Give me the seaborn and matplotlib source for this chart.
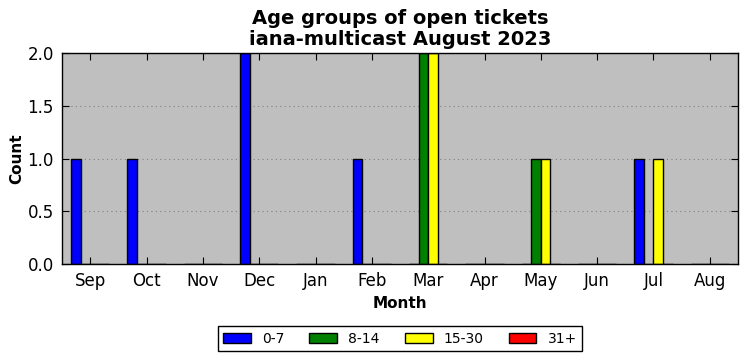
import matplotlib
matplotlib.use("Agg")
import matplotlib.pyplot as plt
import seaborn as sns
import pandas as pd

months = ["Sep", "Oct", "Nov", "Dec", "Jan", "Feb", "Mar", "Apr", "May", "Jun", "Jul", "Aug"]
groups = ["0-7", "8-14", "15-30", "31+"]
v_0_7 = [1, 1, 0, 2, 0, 1, 0, 0, 0, 0, 1, 0]
v_8_14 = [0, 0, 0, 0, 0, 0, 2, 0, 1, 0, 0, 0]
v_15_30 = [0, 0, 0, 0, 0, 0, 2, 0, 1, 0, 1, 0]
v_31p = [0, 0, 0, 0, 0, 0, 0, 0, 0, 0, 0, 0]
colors = ["#0000ff", "#008000", "#ffff00", "#ff0000"]

rows = []
for g, vals in zip(groups, [v_0_7, v_8_14, v_15_30, v_31p]):
    for m, v in zip(months, vals):
        rows.append({"Month": m, "Group": g, "Count": v})
df = pd.DataFrame(rows)

sns.set_style("ticks", {"axes.facecolor": "#bfbfbf", "axes.edgecolor": "black",
                        "text.color": "black", "axes.labelcolor": "black",
                        "xtick.color": "black", "ytick.color": "black"})
plt.rcParams["font.family"] = ["DejaVu Sans"]

fig = plt.figure(figsize=(7.47, 3.61), dpi=100)
ax = fig.add_axes([62/747, 1-264/361, (738-62)/747, (264-53)/361])
sns.barplot(data=df, x="Month", y="Count", hue="Group", order=months, hue_order=groups,
            palette=colors, width=0.68, gap=0, edgecolor="black", linewidth=1,
            saturation=1, ax=ax, legend=True)

ax.set_xlim(-0.5, 11.5)
ax.set_ylim(0, 2)
ax.set_yticks([0, 0.5, 1.0, 1.5, 2.0])
ax.set_yticklabels(["0.0", "0.5", "1.0", "1.5", "2.0"])
ax.yaxis.grid(True, linestyle=(0, (1, 3)), color="#808080", linewidth=0.8)
ax.set_axisbelow(True)
ax.tick_params(direction="in", top=True, right=True, labelsize=12, length=5, width=0.8, pad=6,
               colors="black")
for s in ax.spines.values():
    s.set_linewidth(1)
ax.set_xlabel("Month", fontsize=11, fontweight="bold", color="black")
ax.set_ylabel("Count", fontsize=11, fontweight="bold", color="black", labelpad=2)
ax.set_title("Age groups of open tickets\niana-multicast August 2023", fontsize=14,
             fontweight="bold", linespacing=1.1, color="black")

leg = ax.legend(loc="upper center", bbox_to_anchor=(0.5, -0.295), ncol=4, frameon=True,
                fancybox=False, edgecolor="black", facecolor="white", framealpha=1,
                fontsize=10, handlelength=2.0, handleheight=0.7, columnspacing=1.8,
                borderaxespad=0)
leg.get_frame().set_linewidth(1)
for t in leg.get_texts():
    t.set_color("black")

fig.savefig("out.png", dpi=100)
